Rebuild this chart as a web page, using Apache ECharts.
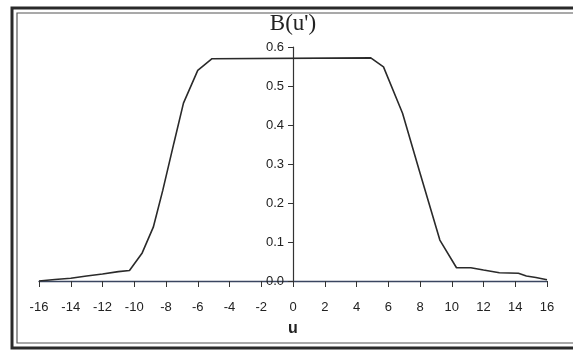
<!DOCTYPE html>
<html>
<head>
<meta charset="utf-8">
<script src="https://cdn.jsdelivr.net/npm/echarts@6/dist/echarts.min.js"></script>
<style>
  html, body { margin: 0; padding: 0; background: #fff; }
  #chart { width: 573px; height: 351px; }
</style>
</head>
<body>
<div id="chart"></div>
<script>
// u positions and B(u') values
const uValues = [-16, -15, -14, -13, -12, -11, -10.3, -9.5, -8.8, -8.2, -7.5, -6.9, -6, -5.1,
  4.9, 5.7, 6.9, 8, 9.25, 10.3, 11.2, 12, 13, 14.2, 14.7, 15.3, 16]
const bValues = [0.0, 0.004, 0.007, 0.013, 0.018, 0.024, 0.027, 0.072, 0.138, 0.233, 0.354, 0.456, 0.54, 0.57,
  0.572, 0.549, 0.43, 0.277, 0.105, 0.034, 0.034, 0.028, 0.021, 0.02, 0.013, 0.009, 0.003]
const xTicks = [-16, 16, 2]
const yTicks = [0, 0.6, 0.1]

const gridLeft = 39
const gridRight = 26
const plotWidth = 573 - gridLeft - gridRight
// y axis sits at u = 0, inside the plot
const yAxisShift = ((0 - xTicks[0]) / (xTicks[1] - xTicks[0])) * plotWidth

const chart = echarts.init(document.getElementById("chart"), null, { renderer: "canvas" })

const option = {
  animation: false,
  backgroundColor: "#fff",
  grid: { left: gridLeft, right: gridRight, top: 47, bottom: 70 },
  xAxis: {
    type: "value",
    min: xTicks[0],
    max: xTicks[1],
    interval: xTicks[2],
    name: "u",
    nameLocation: "middle",
    nameGap: 40,
    nameTextStyle: { fontFamily: "Liberation Sans", fontWeight: "bold", fontSize: 16, color: "#222" },
    axisLine: { lineStyle: { color: "#3a4660", width: 1.3 } },
    axisTick: { length: 6, lineStyle: { color: "#333" } },
    axisLabel: {
      margin: 20,
      fontFamily: "Liberation Sans",
      fontSize: 13,
      color: "#222",
    },
    splitLine: { show: false },
  },
  yAxis: {
    type: "value",
    min: yTicks[0],
    max: yTicks[1],
    interval: yTicks[2],
    offset: -yAxisShift,
    name: "B(u')",
    nameLocation: "end",
    nameGap: 12,
    nameTextStyle: { fontFamily: "Liberation Serif", fontSize: 23, color: "#222", align: "center" },
    axisLine: { onZero: false, lineStyle: { color: "#333", width: 1.2 } },
    axisTick: { length: 5, lineStyle: { color: "#333" } },
    axisLabel: {
      margin: 9,
      fontFamily: "Liberation Sans",
      fontSize: 13,
      color: "#222",
      formatter: (v) => v.toFixed(1),
    },
    splitLine: { show: false },
  },
  series: [
    {
      type: "line",
      data: uValues.map((u, i) => [u, bValues[i]]),
      showSymbol: false,
      lineStyle: { color: "#2a2a2a", width: 1.6 },
    },
  ],
  graphic: [
    {
      type: "rect",
      shape: { x: 12, y: 8, width: 580, height: 340 },
      style: { fill: null, stroke: "#2a2a2a", lineWidth: 3 },
    },
    {
      type: "rect",
      shape: { x: 17, y: 13, width: 580, height: 330 },
      style: { fill: null, stroke: "#555", lineWidth: 1.2 },
    },
  ],
}

chart.setOption(option)
</script>
</body>
</html>
